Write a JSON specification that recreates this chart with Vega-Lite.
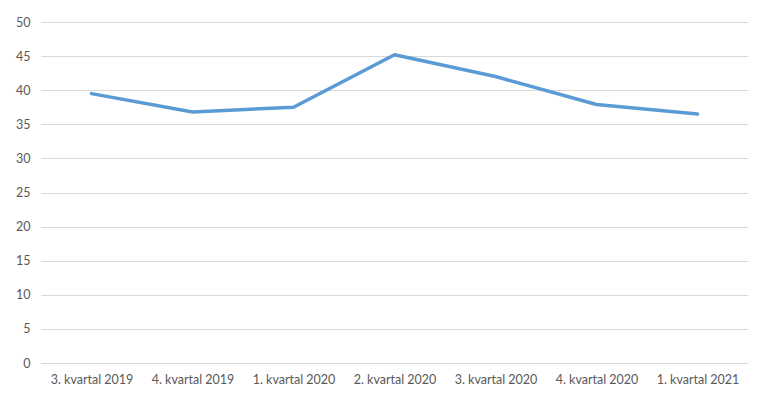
{
  "$schema": "https://vega.github.io/schema/vega-lite/v6.json",
  "width": 707,
  "height": 341,
  "autosize": "none",
  "padding": {"left": 41, "top": 22, "right": 20, "bottom": 42},
  "background": "white",
  "data": {"values": [
    {"kvartal": "3. kvartal 2019", "verdi": 39.5},
    {"kvartal": "4. kvartal 2019", "verdi": 36.8},
    {"kvartal": "1. kvartal 2020", "verdi": 37.5},
    {"kvartal": "2. kvartal 2020", "verdi": 45.2},
    {"kvartal": "3. kvartal 2020", "verdi": 42.0},
    {"kvartal": "4. kvartal 2020", "verdi": 37.9},
    {"kvartal": "1. kvartal 2021", "verdi": 36.5}
  ]},
  "mark": {"type": "line", "color": "#5B9BD5", "strokeWidth": 3.5, "strokeCap": "round", "strokeJoin": "round"},
  "encoding": {
    "x": {"field": "kvartal", "type": "nominal", "sort": null, "title": null,
      "scale": {"paddingInner": 0, "paddingOuter": 0},
      "axis": {"labelAngle": 0, "ticks": false, "domainColor": "#d9d9d9", "labelPadding": 10, "labelFont": "Lato", "labelFontSize": 12.5, "labelColor": "#595959"}},
    "y": {"field": "verdi", "type": "quantitative", "title": null,
      "scale": {"domain": [0, 50], "nice": false},
      "axis": {"values": [0,5,10,15,20,25,30,35,40,45,50], "domain": false, "ticks": false, "labelPadding": 11, "gridColor": "#d9d9d9", "labelFont": "Lato", "labelFontSize": 12.5, "labelColor": "#595959"}}
  },
  "config": {"view": {"stroke": null}}
}
